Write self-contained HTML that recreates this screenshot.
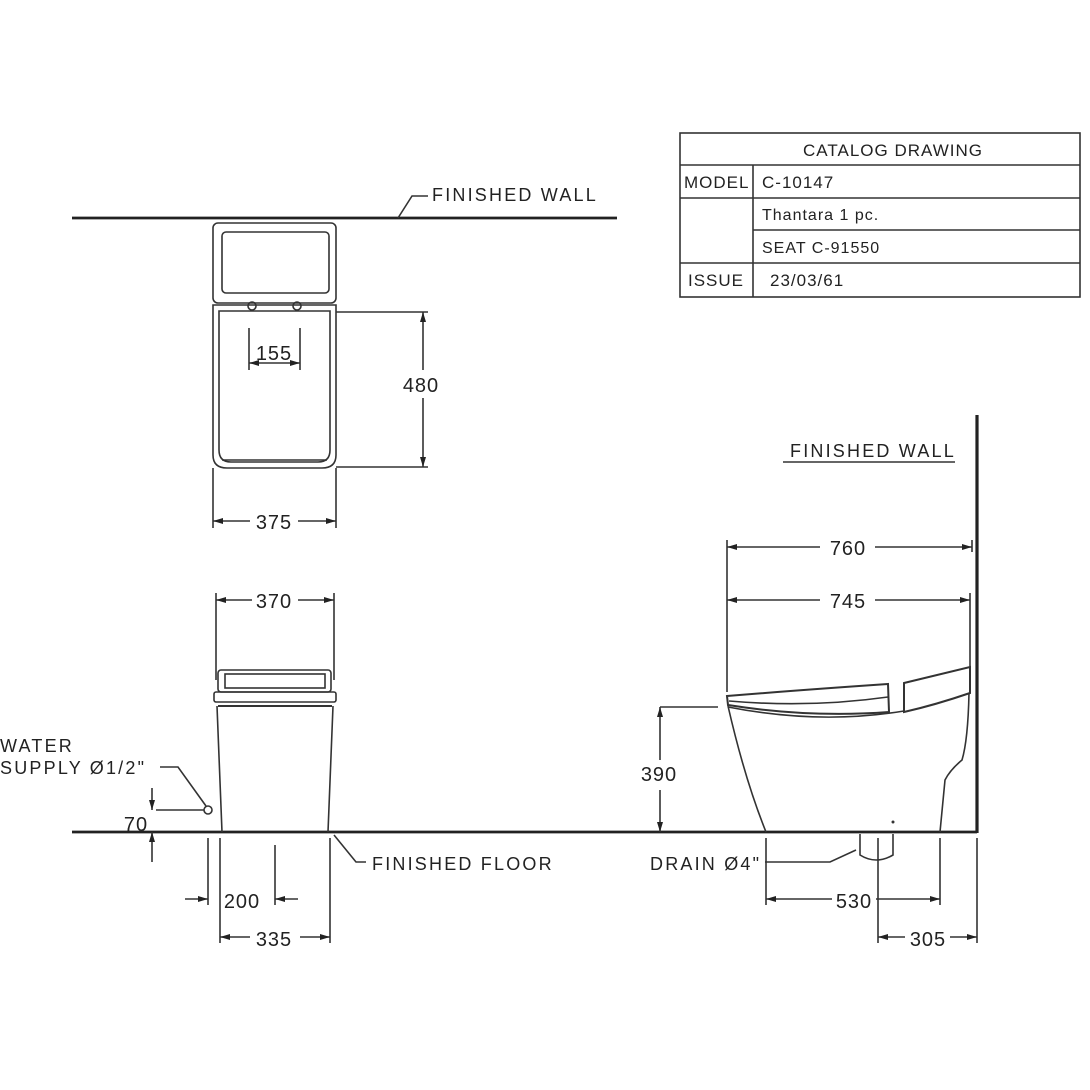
<!DOCTYPE html>
<html><head><style>body{margin:0;background:#fff}svg{display:block}text{font-family:"Liberation Sans",sans-serif;fill:#222}</style></head>
<body>
<svg width="1090" height="1090" viewBox="0 0 1090 1090" xmlns="http://www.w3.org/2000/svg">
<defs><marker id="a" viewBox="0 0 10 6" refX="10" refY="3" markerWidth="10" markerHeight="6" orient="auto-start-reverse" markerUnits="userSpaceOnUse"><path d="M0,0L10,3L0,6z" fill="#222"/></marker></defs>
<g stroke="#333" stroke-width="1.6" fill="none">
<rect x="680" y="133" width="400" height="164"/>
<line x1="680" y1="165" x2="1080" y2="165"/><line x1="680" y1="198" x2="1080" y2="198"/>
<line x1="753" y1="230" x2="1080" y2="230"/><line x1="680" y1="263" x2="1080" y2="263"/>
<line x1="753" y1="165" x2="753" y2="297"/>
<line x1="72" y1="218" x2="617" y2="218" stroke-width="2.8" stroke="#222"/>
<polyline points="398,218 412,196 428,196"/>
<rect x="213" y="223" width="123" height="80" rx="5"/><rect x="222" y="232" width="107" height="61" rx="4"/>
<path d="M213,305 H336 V455 Q336,468 322,468 H227 Q213,468 213,455 Z"/>
<path d="M219,311 H330 V450 Q330,462 318,462 H231 Q219,462 219,450 Z"/>
<line x1="222" y1="460" x2="327" y2="460"/>
<circle cx="252" cy="306" r="4"/><circle cx="297" cy="306" r="4"/>
<line x1="249" y1="328" x2="249" y2="370"/><line x1="300" y1="328" x2="300" y2="370"/>
<line x1="249" y1="363" x2="300" y2="363" marker-start="url(#a)" marker-end="url(#a)"/>
<line x1="336" y1="312" x2="428" y2="312"/><line x1="336" y1="467" x2="428" y2="467"/>
<line x1="423" y1="312" x2="423" y2="370" marker-start="url(#a)"/><line x1="423" y1="398" x2="423" y2="467" marker-end="url(#a)"/>
<line x1="213" y1="468" x2="213" y2="528"/><line x1="336" y1="468" x2="336" y2="528"/>
<line x1="213" y1="521" x2="250" y2="521" marker-start="url(#a)"/><line x1="298" y1="521" x2="336" y2="521" marker-end="url(#a)"/>
<line x1="72" y1="832" x2="977" y2="832" stroke-width="2.8" stroke="#222"/>
<rect x="218" y="670" width="113" height="22" rx="3"/><rect x="225" y="674" width="100" height="14"/>
<rect x="214" y="692" width="122" height="10" rx="2"/><line x1="218" y1="706" x2="332" y2="706" stroke-width="2"/>
<path d="M217,706 L222,832 M333,706 L328,832"/>
<line x1="216" y1="593" x2="216" y2="680"/><line x1="334" y1="593" x2="334" y2="680"/>
<line x1="216" y1="600" x2="252" y2="600" marker-start="url(#a)"/><line x1="298" y1="600" x2="334" y2="600" marker-end="url(#a)"/>
<polyline points="160,767 178,767 206,806"/><circle cx="208" cy="810" r="4"/>
<line x1="156" y1="810" x2="204" y2="810"/>
<line x1="152" y1="788" x2="152" y2="810" marker-end="url(#a)"/><line x1="152" y1="862" x2="152" y2="832" marker-end="url(#a)"/>
<line x1="208" y1="838" x2="208" y2="905"/><line x1="220" y1="838" x2="220" y2="943"/>
<line x1="275" y1="845" x2="275" y2="905"/><line x1="330" y1="838" x2="330" y2="943"/>
<line x1="185" y1="899" x2="208" y2="899" marker-end="url(#a)"/><line x1="298" y1="899" x2="275" y2="899" marker-end="url(#a)"/>
<line x1="220" y1="937" x2="250" y2="937" marker-start="url(#a)"/><line x1="300" y1="937" x2="330" y2="937" marker-end="url(#a)"/>
<polyline points="334,835 356,862 366,862"/>
<line x1="977" y1="415" x2="977" y2="833" stroke-width="3.2" stroke="#222"/>
<line x1="783" y1="462" x2="955" y2="462"/>
<line x1="727" y1="540" x2="727" y2="692"/><line x1="972" y1="540" x2="972" y2="552"/><line x1="970" y1="593" x2="970" y2="668"/>
<line x1="727" y1="547" x2="820" y2="547" marker-start="url(#a)"/><line x1="875" y1="547" x2="972" y2="547" marker-end="url(#a)"/>
<line x1="727" y1="600" x2="820" y2="600" marker-start="url(#a)"/><line x1="875" y1="600" x2="970" y2="600" marker-end="url(#a)"/>
<path d="M727,696 Q800,690 888,684 L889,712 Q810,718 728,705 Z" stroke-width="2"/>
<path d="M729,701 Q810,708 888,697"/>
<path d="M904,683 L970,667 L970,693 Q935,705 904,712 Z" stroke-width="2"/>
<path d="M728,706 Q745,780 766,832"/>
<path d="M969,693 Q968,740 962,760 Q950,770 945,780 L940,832"/>
<path d="M728,707 Q820,725 904,711"/>
<line x1="660" y1="707" x2="718" y2="707"/>
<line x1="660" y1="707" x2="660" y2="760" marker-start="url(#a)"/><line x1="660" y1="790" x2="660" y2="832" marker-end="url(#a)"/>
<path d="M860,834 V855 Q876,865 893,855 V834"/>
<polyline points="765,862 830,862 856,850"/>
<line x1="766" y1="838" x2="766" y2="905"/><line x1="940" y1="838" x2="940" y2="905"/>
<line x1="766" y1="899" x2="832" y2="899" marker-start="url(#a)"/><line x1="876" y1="899" x2="940" y2="899" marker-end="url(#a)"/>
<line x1="878" y1="838" x2="878" y2="943"/><line x1="977" y1="838" x2="977" y2="943"/>
<line x1="878" y1="937" x2="905" y2="937" marker-start="url(#a)"/><line x1="950" y1="937" x2="977" y2="937" marker-end="url(#a)"/>
</g>
<circle cx="893" cy="822" r="1.5" fill="#333"/>
<g font-size="17" letter-spacing="1">
<text x="803" y="156">CATALOG DRAWING</text>
<text x="684" y="188">MODEL</text><text x="762" y="188">C-10147</text>
<text x="762" y="220" font-size="16">Thantara 1 pc.</text>
<text x="762" y="253" font-size="16">SEAT C-91550</text>
<text x="688" y="286">ISSUE</text><text x="770" y="286">23/03/61</text>
</g>
<g font-size="18" letter-spacing="2.2">
<text x="432" y="201">FINISHED WALL</text>
<text x="790" y="457">FINISHED WALL</text>
<text x="372" y="870">FINISHED FLOOR</text>
<text x="650" y="870">DRAIN Ø4"</text>
<text x="0" y="752">WATER</text><text x="0" y="774">SUPPLY Ø1/2"</text>
</g>
<g font-size="20" text-anchor="middle" letter-spacing="1">
<text x="274" y="360">155</text><text x="421" y="392">480</text><text x="274" y="529">375</text>
<text x="274" y="608">370</text><text x="136" y="831">70</text><text x="242" y="908">200</text><text x="274" y="946">335</text>
<text x="848" y="555">760</text><text x="848" y="608">745</text><text x="659" y="781">390</text>
<text x="854" y="908">530</text><text x="928" y="946">305</text>
</g>
</svg>
</body></html>
